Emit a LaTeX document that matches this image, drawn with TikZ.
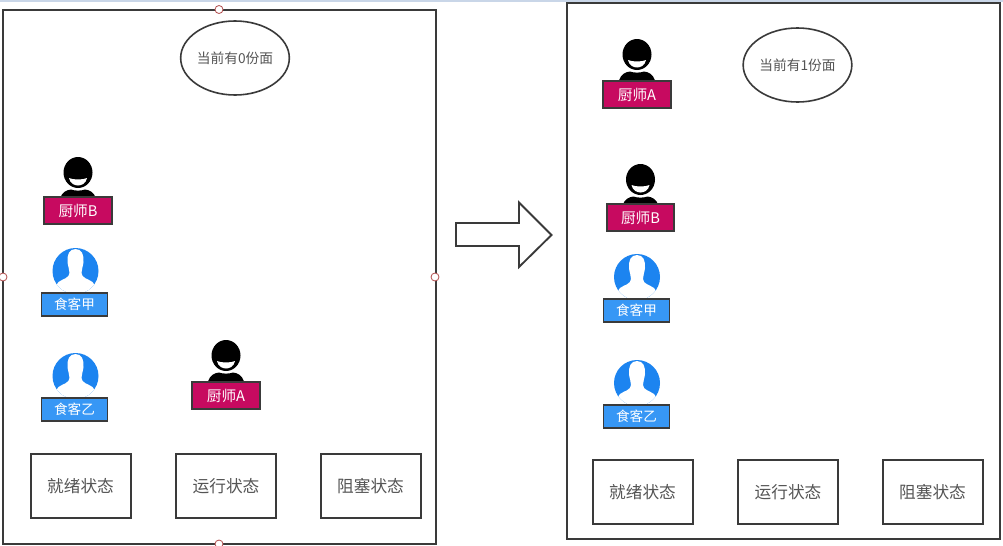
\documentclass[tikz,border=0pt]{standalone}
\usepackage{fontspec}
\setmainfont{Noto Sans CJK SC}
\definecolor{frameC}{HTML}{3A3A3A}
\definecolor{txtC}{HTML}{555555}
\definecolor{chefC}{HTML}{C70A60}
\definecolor{dinerC}{HTML}{3797F5}
\definecolor{headC}{HTML}{1C84F0}
\definecolor{stripC}{HTML}{C9D6E8}
\tikzset{
  x=0.75pt,y=-0.75pt,
  frame/.style={draw=frameC,line width=1.6pt,fill=white},
  statebox/.style={draw=frameC,line width=1.5pt,fill=white,minimum width=75pt,minimum height=47.5pt,inner sep=0pt,text=txtC,font=\fontsize{12.5}{14}\selectfont},
  countoval/.style={draw=frameC,line width=1.2pt,ellipse,fill=white,minimum width=81.5pt,minimum height=55.5pt,inner sep=0pt,text=txtC,font=\fontsize{10.3}{12}\selectfont},
  cheflabel/.style={draw=frameC,line width=1.3pt,fill=chefC,minimum width=50.5pt,minimum height=19.8pt,inner sep=0pt,text=white,font=\fontsize{11}{12}\selectfont},
  dinerlabel/.style={draw=frameC,line width=1.3pt,fill=dinerC,minimum width=49.5pt,minimum height=16.8pt,inner sep=0pt,text=white,font=\fontsize{10.2}{12}\selectfont},
  handle/.style={circle,draw=red!40!gray,fill=white,line width=0.6pt,minimum size=6pt,inner sep=0pt},
  chef/.pic={
    \fill[black] (0,-38) ellipse [x radius=14.5,y radius=15.5];
    \fill[white] (-9,-32.5) .. controls (-5,-30.5) and (5,-30.5) .. (9,-32.5) .. controls (8,-27) and (3.5,-25) .. (0,-25) .. controls (-3.5,-25) and (-8,-27) .. (-9,-32.5) -- cycle;
    \fill[black] (-18,-12) .. controls (-16,-18) and (-12,-20.5) .. (-7,-21) .. controls (-3,-19.5) and (3,-19.5) .. (7,-21) .. controls (12,-20.5) and (16,-18) .. (18,-12) -- cycle;
  },
  diner/.pic={
    \fill[headC] (0,0) circle [radius=23];
    \begin{scope}
      \clip (0,0) circle [radius=23];
      \fill[white] (0,-22) .. controls (6.5,-22) and (8.5,-16) .. (8,-9) .. controls (7.5,-4) and (6,-2) .. (6,2) .. controls (6,7) and (13,8) .. (17,11) .. controls (19,13) and (20,17) .. (21,24) -- (-21,24) .. controls (-20,17) and (-19,13) .. (-17,11) .. controls (-13,8) and (-6,7) .. (-6,2) .. controls (-6,-2) and (-7.5,-4) .. (-8,-9) .. controls (-8.5,-16) and (-6.5,-22) .. (0,-22) -- cycle;
    \end{scope}
  },
}
\usetikzlibrary{shapes.geometric}
\begin{document}
\begin{tikzpicture}
\useasboundingbox (0,0) rectangle (1003,546);
\fill[white] (0,0) rectangle (1003,546);
\fill[stripC] (0,0) rectangle (1003,2);
% frames
\draw[frame] (3,10) rectangle (436,544);
\draw[frame] (567,3) rectangle (1000,539);
% handles
\node[handle] (h1) at (219,9.5) {};
\node[handle] (h2) at (3,277) {};
\node[handle] (h3) at (435,277) {};
\node[handle] (h4) at (219,544) {};
% ovals
\node[countoval] (oL) at (235,58) {当前有0份面};
\node[countoval] (oR) at (797.5,65) {当前有1份面};
% arrow
\draw[draw=frameC,line width=1.4pt,fill=white,line join=miter] (456,223) -- (519,223) -- (519,202.5) -- (551.5,235) -- (519,267) -- (519,246) -- (456,246) -- cycle;
% left column
\pic at (78,210.5) {chef};
\node[cheflabel] (cBL) at (78,210.5) {厨师B};
\pic at (226,393.5) {chef};
\node[cheflabel] (cAL) at (226,395.5) {厨师A};
\pic at (75.5,271) {diner};
\node[dinerlabel] (dJL) at (74.5,304.5) {食客甲};
\pic at (75.5,376) {diner};
\node[dinerlabel] (dYL) at (74.5,409.5) {食客乙};
% right column
\pic at (637,92.5) {chef};
\node[cheflabel] (cAR) at (637,94.5) {厨师A};
\pic at (640.5,217.5) {chef};
\node[cheflabel] (cBR) at (640.5,217.5) {厨师B};
\pic at (637,277) {diner};
\node[dinerlabel] (dJR) at (636.5,310.5) {食客甲};
\pic at (637,383) {diner};
\node[dinerlabel] (dYR) at (636.5,416.5) {食客乙};
% state boxes
\node[statebox] (s1) at (80.5,486) {就绪状态};
\node[statebox] (s2) at (226,486) {运行状态};
\node[statebox] (s3) at (370.5,486) {阻塞状态};
\node[statebox] (s4) at (642.5,492) {就绪状态};
\node[statebox] (s5) at (788,492) {运行状态};
\node[statebox] (s6) at (932.5,492) {阻塞状态};
\end{tikzpicture}
\end{document}
